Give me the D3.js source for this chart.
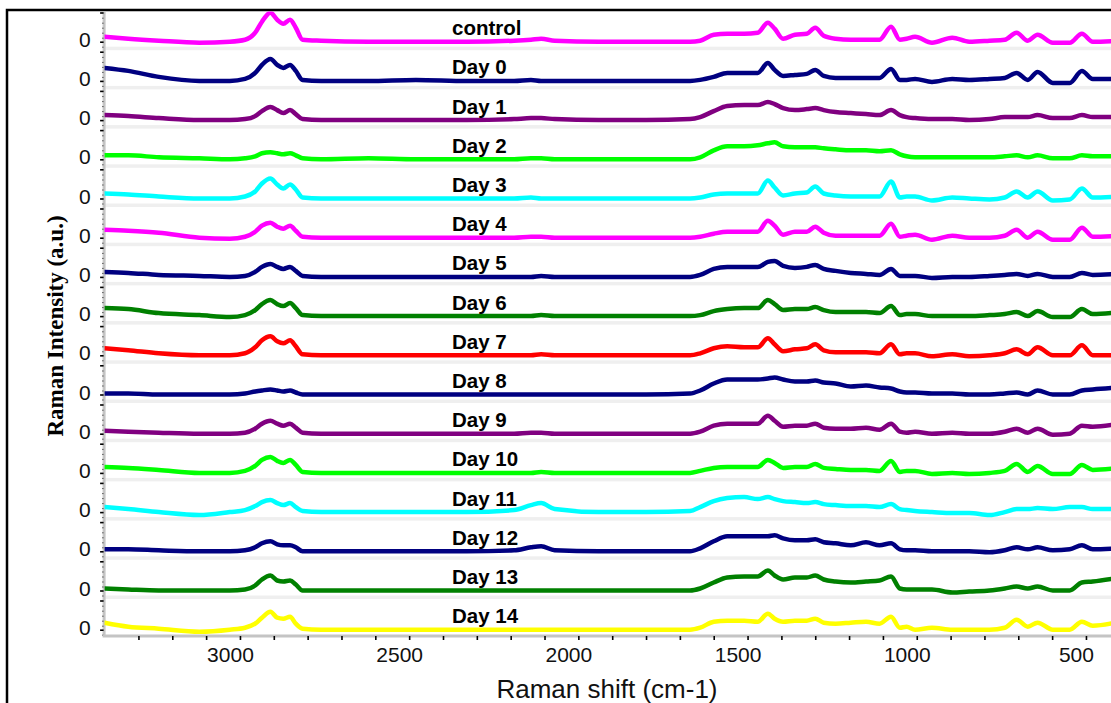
<!DOCTYPE html>
<html>
<head>
<meta charset="utf-8">
<script src="https://cdn.jsdelivr.net/npm/d3@7"></script>
<style>
  body { margin: 0; background: #fff; }
  svg { display: block; }
</style>
</head>
<body>
<svg id="chart" width="1111" height="703"></svg>
<script>
// Raman shift grid (cm-1), shared by all spectra
const shifts = [3400,3330,3240,3120,3030,2985,2955,2935,2910,2890,2872,2852,2835,2815,
  2760,2620,2480,2330,2190,2140,2110,2070,1940,1800,1670,
  1640,1600,1560,1510,1470,1440,1420,1395,1360,1325,1300,1275,1240,1195,1150,1110,1076,
  1050,1030,1005,955,895,845,785,740,705,672,643,598,548,512,480,400];

const sampleNames = ["control","Day 0","Day 1","Day 2","Day 3","Day 4","Day 5","Day 6",
  "Day 7","Day 8","Day 9","Day 10","Day 11","Day 12","Day 13","Day 14"];

const sampleColors = ["#ff00ff","#000080","#800080","#00ff00","#00ffff","#ff00ff","#000080","#008000",
  "#ff0000","#000080","#800080","#00ff00","#00ffff","#000080","#008000","#ffff00"];

// Intensities (a.u.), one value per shift
const control = [5,3,1,-1,0,2,9,20,29,22,18,22,14,2, 1,0,0,0,1,2,3,1,0,0,0,
  1,7,8,8,9,19,13,3,7,8,14,6,3,2,2,2,15,2,3,5,-1,4,0,1,2,9,1,7,-1,-1,8,0,1];
const day0 = [13,10,4,0,0,2,8,16,22,16,13,16,10,1, 0,0,1,0,0,1,0,0,0,0,0,
  1,4,8,8,8,18,11,5,6,7,11,5,3,3,3,3,12,1,1,2,-1,2,1,2,3,8,1,9,-2,-2,10,2,2];
const day1 = [5,4,2,0,0,1,4,9,13,10,7,10,6,1, 0,0,0,0,1,2,2,1,0,0,1,
  3,9,14,15,15,18,16,12,10,11,12,10,8,7,6,5,10,5,3,2,1,1,0,1,3,3,3,5,2,2,5,3,3];
const day2 = [4,4,2,1,0,1,3,6,7,6,5,6,4,1, 0,1,0,0,0,1,1,0,0,0,0,
  2,9,13,13,14,16,17,13,12,12,12,11,10,9,9,8,9,5,3,2,2,2,2,2,3,4,2,4,1,1,4,3,3];
const day3 = [5,4,2,0,0,2,7,15,20,14,10,14,9,1, 0,0,0,0,0,1,0,0,0,0,0,
  1,4,5,5,5,18,11,3,5,6,12,5,3,2,2,2,17,1,2,2,-2,1,0,-1,1,7,1,7,-2,-1,10,1,2];
const day4 = [8,7,5,0,-1,1,6,12,15,11,9,12,7,1, 0,0,0,0,0,1,1,0,0,0,0,
  1,4,6,6,6,17,12,3,6,6,11,5,2,2,2,2,14,1,2,3,-2,2,0,0,2,8,0,6,-2,-2,10,1,2];
const day5 = [5,4,2,1,0,1,5,10,13,10,8,10,6,1, 0,0,0,0,0,0,1,0,0,0,0,
  2,8,10,10,10,15,16,11,9,10,12,8,6,4,3,2,8,1,1,1,-1,0,0,1,2,3,1,3,0,0,4,2,3];
const day6 = [8,7,3,1,-1,1,6,12,16,12,10,13,8,1, 0,0,0,0,0,0,1,0,0,0,0,
  1,5,7,8,8,16,12,6,7,7,9,6,4,4,4,3,10,1,2,2,0,0,0,1,2,4,0,5,-1,-1,7,2,4];
const day7 = [7,5,2,0,0,2,8,15,19,14,12,15,9,1, 0,0,0,0,0,0,1,0,0,0,0,
  2,7,9,8,8,17,11,4,6,7,11,5,3,3,3,2,11,1,2,2,-1,1,-1,0,2,6,1,8,0,0,10,0,0];
const day8 = [1,1,0,0,0,1,3,4,5,4,3,4,2,0, 0,0,0,0,0,0,0,0,0,0,1,
  4,11,15,15,15,16,17,15,13,13,14,12,11,8,9,7,6,3,2,2,1,1,0,0,1,2,0,4,0,0,4,5,7];
const day9 = [3,2,1,0,0,1,5,10,13,10,8,10,6,1, 0,0,0,0,0,1,1,0,0,0,0,
  2,8,10,10,10,18,13,7,8,8,10,6,5,5,6,4,10,2,1,2,0,1,0,0,2,5,1,5,-1,0,8,7,10];
const day10 = [6,5,3,0,0,2,7,13,16,12,10,13,8,1, 0,0,0,0,0,0,1,0,0,0,0,
  2,5,6,6,6,13,10,5,6,6,9,5,4,3,3,2,12,1,2,2,-1,0,-1,0,2,9,1,7,-1,-1,8,3,5];
const day11 = [5,3,0,-3,0,2,6,10,12,9,7,9,5,1, 0,0,0,0,2,7,9,3,0,0,1,
  5,11,14,15,13,15,13,11,10,9,10,8,7,6,6,5,8,3,2,1,0,-1,-1,-3,0,3,3,4,3,5,5,3,3];
const day12 = [2,2,1,0,0,1,4,8,10,7,6,6,4,0, 0,0,0,0,1,4,5,1,0,0,0,
  3,10,15,15,15,15,16,13,11,11,12,9,8,6,9,6,8,2,1,1,0,0,0,-1,1,4,2,4,1,2,6,2,3];
const day13 = [2,1,0,0,0,1,5,11,15,10,9,10,6,0, 0,0,0,0,0,0,0,0,0,0,0,
  2,8,13,14,14,20,15,11,13,13,15,11,9,8,9,10,14,2,1,1,1,-2,-1,0,2,4,2,4,0,0,8,9,13];
const day14 = [7,3,1,-2,0,2,6,12,18,12,11,13,6,1, 0,0,0,0,0,0,0,0,0,0,0,
  2,8,9,9,8,16,11,8,9,9,11,7,6,7,8,6,13,2,3,0,2,0,0,0,2,10,3,7,0,0,8,4,8];

const spectra = [control,day0,day1,day2,day3,day4,day5,day6,day7,day8,day9,day10,day11,day12,day13,day14];

const xTickLabels = [3000,2500,2000,1500,1000,500];

// ---------------------------------------------------------------
const svg = d3.select("#chart");
const plotLeft = 104.6, plotRight = 1111, plotTop = 12.5;
const panelH = 39.2;

const x = d3.scaleLinear().domain([3400, 400]).range([plotLeft, 1119.8]);
const panel = d3.scaleBand().domain(sampleNames)
  .range([plotTop, plotTop + panelH * sampleNames.length]).paddingInner(0).paddingOuter(0);
// y inside one panel: zero sits 29.2 px below panel top
const y = d3.scaleLinear().domain([-10, 29.2]).range([panelH, 0]);

const xAxisY = panel("Day 14") + y(0) + 6.3;

// outer frame
svg.append("path")
  .attr("d", "M7,703V10H1111")
  .attr("fill", "none").attr("stroke", "#000").attr("stroke-width", 2.5);

svg.append("clipPath").attr("id", "plotClip")
  .append("rect").attr("x", plotLeft).attr("y", 11.5)
  .attr("width", plotRight - plotLeft).attr("height", xAxisY - 11.5);

// panel separators (light grey bands under each spectrum)
sampleNames.forEach((name, i) => {
  if (i === sampleNames.length - 1) return;
  svg.append("rect")
    .attr("x", plotLeft).attr("width", plotRight - plotLeft)
    .attr("y", panel(name) + y(0) + 5).attr("height", 3.5)
    .attr("fill", "#efefef");
});

// y axis line
svg.append("line")
  .attr("x1", plotLeft - 0.5).attr("x2", plotLeft - 0.5)
  .attr("y1", 11).attr("y2", xAxisY)
  .attr("stroke", "#c4c4c4").attr("stroke-width", 3);

// per-panel y ticks
sampleNames.forEach(name => {
  const g = svg.append("g").attr("transform", `translate(${plotLeft - 1},${panel(name)})`);
  const minor = g.append("g").call(d3.axisLeft(y).tickValues([4, 9, 14, 19, 24, -5]).tickSize(1.5).tickFormat(""));
  minor.select(".domain").remove();
  minor.selectAll(".tick line").attr("stroke", "#555").attr("stroke-width", 1);
  const major = g.append("g").call(d3.axisLeft(y).tickValues([0, 29.2]).tickSize(3.5)
    .tickFormat(d => d === 0 ? "0" : "").tickPadding(9.5));
  major.select(".domain").remove();
  major.selectAll(".tick line").attr("stroke", "#000").attr("stroke-width", 1.6);
  major.selectAll(".tick text")
    .attr("font-family", "'Liberation Sans', Arial, sans-serif")
    .attr("font-size", 21).attr("fill", "#111").attr("dy", "0.22em");
});

// spectra
const line = d3.line()
  .x((d, i) => x(shifts[i]))
  .y(d => d)
  .curve(d3.curveMonotoneX);

const plot = svg.append("g").attr("clip-path", "url(#plotClip)");
sampleNames.forEach((name, k) => {
  const top = panel(name);
  plot.append("path")
    .datum(spectra[k].map(v => top + y(v)))
    .attr("d", line)
    .attr("fill", "none")
    .attr("stroke", sampleColors[k])
    .attr("stroke-width", 4.5)
    .attr("stroke-linejoin", "round")
    .attr("stroke-linecap", "round");
});

// spectrum names
sampleNames.forEach(name => {
  svg.append("text")
    .attr("x", 452).attr("y", panel(name) + y(0) - 6.5)
    .attr("font-family", "'Liberation Sans', Arial, sans-serif")
    .attr("font-weight", "bold").attr("font-size", 20.5)
    .attr("fill", "#000")
    .text(name);
});

// x axis
svg.append("line")
  .attr("x1", plotLeft - 2).attr("x2", plotRight)
  .attr("y1", xAxisY).attr("y2", xAxisY)
  .attr("stroke", "#c4c4c4").attr("stroke-width", 3);

const xg = svg.append("g").attr("transform", `translate(0,${xAxisY})`)
  .call(d3.axisBottom(x).tickValues(d3.range(3300, 400, -100)).tickSize(4)
    .tickFormat(d => xTickLabels.includes(d) ? String(d) : "").tickPadding(7));
xg.select(".domain").remove();
xg.selectAll(".tick line").attr("stroke", "#000").attr("stroke-width", 1.6);
xg.selectAll(".tick text")
  .attr("font-family", "'Liberation Sans', Arial, sans-serif")
  .attr("font-size", 21).attr("fill", "#111").attr("dx", -10);

// axis titles
svg.append("text")
  .attr("x", 607).attr("y", 698)
  .attr("text-anchor", "middle")
  .attr("font-family", "'Liberation Sans', Arial, sans-serif")
  .attr("font-size", 26).attr("fill", "#111")
  .text("Raman shift (cm-1)");

svg.append("text")
  .attr("transform", "translate(55,326) rotate(-90)")
  .attr("text-anchor", "middle").attr("dominant-baseline", "central")
  .attr("font-family", "'Liberation Serif', 'Times New Roman', serif")
  .attr("font-weight", "bold").attr("font-size", 23)
  .attr("fill", "#000")
  .text("Raman Intensity (a.u.)");
</script>
</body>
</html>
